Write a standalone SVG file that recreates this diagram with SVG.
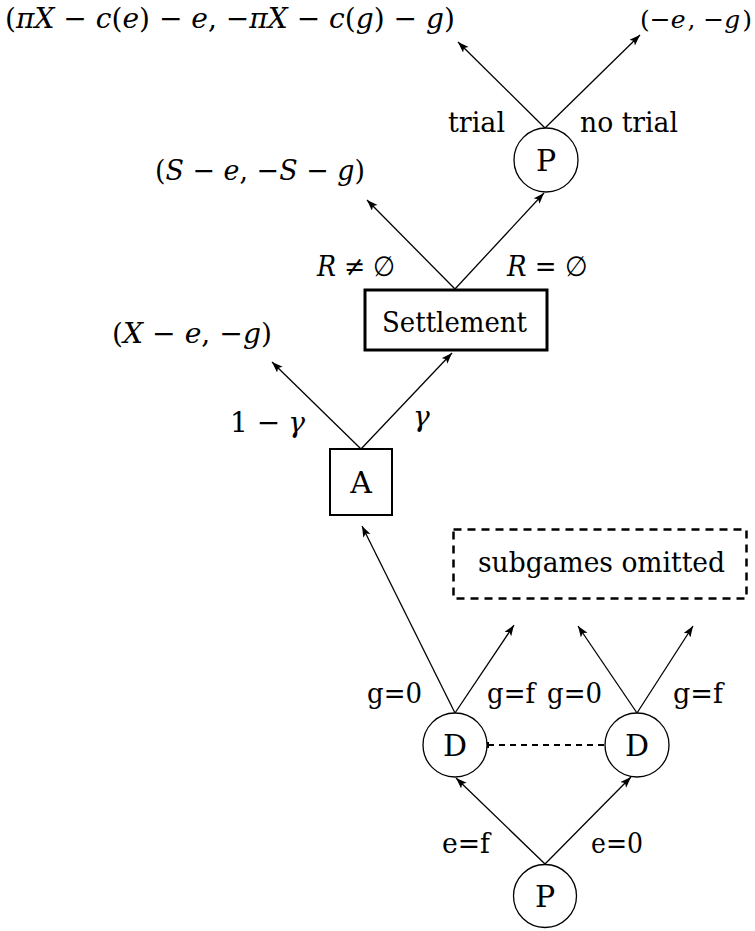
<svg xmlns="http://www.w3.org/2000/svg" width="755" height="931" viewBox="0 0 755 931">
<style>
text{font-family:'DejaVu Serif',serif;font-size:28px;fill:#000}
.i{font-style:italic}
.c{text-anchor:middle;font-size:30px}
.edge{stroke:#000;stroke-width:1.3;fill:none;marker-end:url(#ah)}
.node{fill:#fff;stroke:#000;stroke-width:1.3}
</style>
<defs>
<marker id="ah" markerUnits="userSpaceOnUse" markerWidth="12" markerHeight="9" refX="11" refY="4" orient="auto">
<path d="M0,0 L11,4 L0,8 L2.5,4 z" fill="#000"/>
</marker>
</defs>
<rect width="755" height="931" fill="#fff"/>

<g id="connectors">
<path class="edge" d="M545,128 L458,42"/>
<path class="edge" d="M545,128 L640,35"/>
<path class="edge" d="M455,289 L367,200"/>
<path class="edge" d="M455,289 L544,193"/>
<path class="edge" d="M361,449 L272,362"/>
<path class="edge" d="M361,449 L452,353"/>
<path class="edge" d="M455,713 L362,526"/>
<path class="edge" d="M455,713 L514,625"/>
<path class="edge" d="M637,713 L578,626"/>
<path class="edge" d="M637,713 L693,626"/>
<path class="edge" d="M545,864 L456,778"/>
<path class="edge" d="M545,864 L631,777"/>
<path id="info-set" d="M488,745 L606,745" stroke="#000" stroke-width="2" stroke-dasharray="6,5" fill="none"/>
<rect x="487" y="742" width="2" height="6" fill="#000"/>
<rect x="605" y="742" width="2" height="6" fill="#000"/>
</g>

<g id="payoff-trial"><text x="5" y="28" textLength="450" lengthAdjust="spacingAndGlyphs">(<tspan class="i">πX</tspan> − <tspan class="i">c</tspan>(<tspan class="i">e</tspan>) − <tspan class="i">e</tspan>, −<tspan class="i">πX</tspan> − <tspan class="i">c</tspan>(<tspan class="i">g</tspan>) − <tspan class="i">g</tspan>)</text></g>
<g id="payoff-notrial"><text x="640" y="28" style="font-size:25px" textLength="112" lengthAdjust="spacingAndGlyphs">(−<tspan class="i">e</tspan><tspan dx="2">, −</tspan><tspan class="i">g</tspan><tspan dx="2">)</tspan></text></g>
<g id="labels-P2">
<text x="448" y="132" textLength="57" lengthAdjust="spacingAndGlyphs">trial</text>
<text x="580" y="132" textLength="98" lengthAdjust="spacingAndGlyphs">no trial</text>
</g>
<g id="node-P2"><circle class="node" cx="546" cy="160" r="32"/><text class="c" x="546" y="171">P</text></g>
<g id="payoff-settle"><text x="155" y="180" textLength="210" lengthAdjust="spacingAndGlyphs">(<tspan class="i">S</tspan> − <tspan class="i">e</tspan>, −<tspan class="i">S</tspan> − <tspan class="i">g</tspan>)</text></g>
<g id="labels-settlement">
<text x="317" y="276" textLength="78" lengthAdjust="spacingAndGlyphs"><tspan class="i">R</tspan> ≠ ∅</text>
<text x="507" y="276" textLength="80" lengthAdjust="spacingAndGlyphs"><tspan class="i">R</tspan> = ∅</text>
</g>
<g id="node-settlement"><rect x="365" y="290" width="182" height="60" fill="#fff" stroke="#000" stroke-width="3"/><text x="382" y="332" textLength="145" lengthAdjust="spacingAndGlyphs">Settlement</text></g>
<g id="payoff-A"><text x="112" y="343" textLength="160" lengthAdjust="spacingAndGlyphs">(<tspan class="i">X</tspan> − <tspan class="i">e</tspan>, −<tspan class="i">g</tspan>)</text></g>
<g id="labels-A">
<text x="230" y="432">1 −<tspan class="i" dx="8">γ</tspan></text>
<text x="413" y="426"><tspan class="i">γ</tspan></text>
</g>
<g id="node-A"><rect x="330" y="449" width="62" height="66" fill="#fff" stroke="#000" stroke-width="2"/><text class="c" x="361" y="493">A</text></g>
<g id="subgames"><rect x="453.5" y="529.5" width="293" height="69" fill="none" stroke="#000" stroke-width="2.5" stroke-dasharray="8,6"/><text x="478" y="572" textLength="247" lengthAdjust="spacingAndGlyphs">subgames omitted</text></g>
<g id="labels-D">
<text x="367" y="703" textLength="55" lengthAdjust="spacingAndGlyphs">g=0</text>
<text x="487" y="703" textLength="48" lengthAdjust="spacingAndGlyphs">g=f</text>
<text x="547" y="703" textLength="55" lengthAdjust="spacingAndGlyphs">g=0</text>
<text x="673" y="703" textLength="50" lengthAdjust="spacingAndGlyphs">g=f</text>
</g>
<g id="node-D1"><circle class="node" cx="455" cy="745" r="32"/><text class="c" x="455" y="756">D</text></g>
<g id="node-D2"><circle class="node" cx="637" cy="745" r="32"/><text class="c" x="637" y="756">D</text></g>
<g id="labels-P1">
<text x="442" y="853" textLength="48" lengthAdjust="spacingAndGlyphs">e=f</text>
<text x="591" y="853" textLength="52" lengthAdjust="spacingAndGlyphs">e=0</text>
</g>
<g id="node-P1"><circle class="node" cx="545" cy="896" r="31.5"/><text class="c" x="545" y="907">P</text></g>
</svg>
